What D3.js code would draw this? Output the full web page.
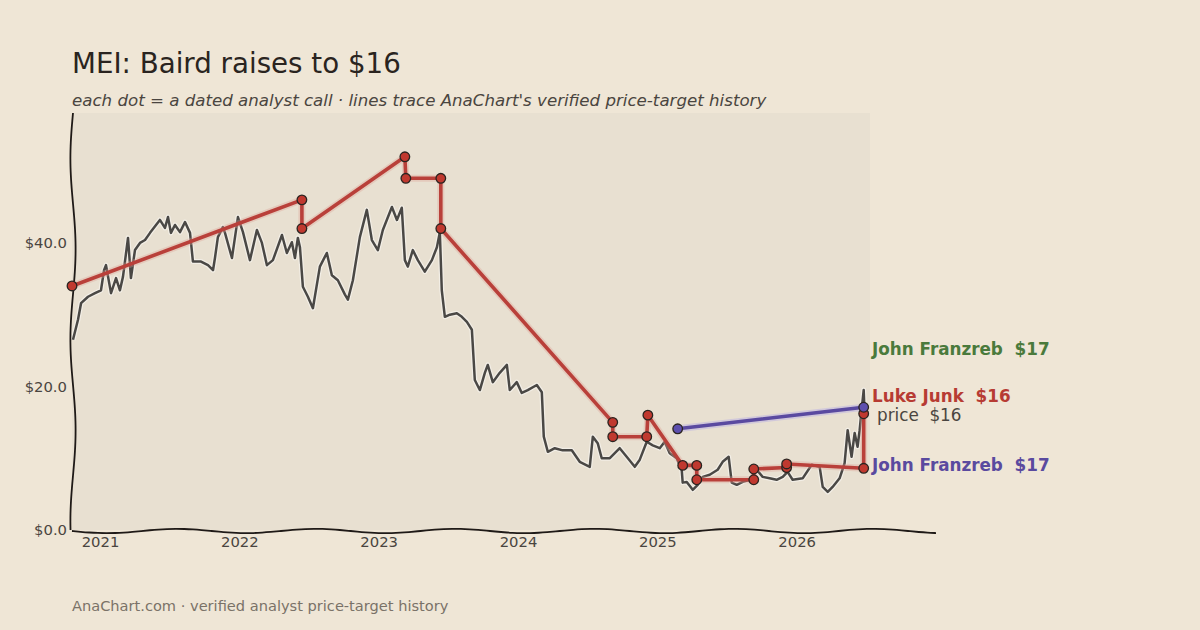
<!DOCTYPE html>
<html>
<head>
<meta charset="utf-8">
<script src="https://cdn.jsdelivr.net/npm/d3@7"></script>
<style>
  body { margin: 0; background: #efe6d6; }
  svg { display: block; font-family: "DejaVu Sans", sans-serif; }
  text { white-space: pre; }
</style>
</head>
<body>
<div id="chart"></div>
<script>
// price history, [decimal year, $]
var priceHistory = [
  [2020.806, 26.5], [2020.842, 29.3], [2020.864, 31.6], [2020.914, 32.5], [2020.964, 33.0],
  [2021.007, 33.4], [2021.029, 36.2], [2021.043, 36.9], [2021.079, 33.0], [2021.115, 35.1],
  [2021.143, 33.4], [2021.165, 35.3], [2021.201, 40.7], [2021.222, 35.1], [2021.251, 39.0],
  [2021.287, 40.0], [2021.323, 40.4], [2021.359, 41.4], [2021.402, 42.5], [2021.430, 43.2],
  [2021.466, 42.1], [2021.488, 43.6], [2021.509, 41.4], [2021.538, 42.5], [2021.574, 41.5],
  [2021.610, 42.9], [2021.646, 41.4], [2021.667, 37.4], [2021.725, 37.4], [2021.775, 36.9],
  [2021.811, 36.2], [2021.825, 37.9], [2021.846, 40.8], [2021.882, 42.2], [2021.897, 41.4],
  [2021.947, 37.9], [2021.990, 43.6], [2022.026, 41.5], [2022.076, 37.6], [2022.126, 41.8],
  [2022.162, 40.0], [2022.198, 36.9], [2022.241, 37.6], [2022.306, 41.1], [2022.341, 38.6],
  [2022.377, 40.1], [2022.399, 37.9], [2022.420, 40.7], [2022.435, 39.4], [2022.456, 33.9],
  [2022.492, 32.5], [2022.528, 30.9], [2022.578, 36.7], [2022.628, 38.6], [2022.664, 35.5],
  [2022.707, 34.8], [2022.758, 32.8], [2022.779, 32.1], [2022.815, 34.8], [2022.865, 40.8],
  [2022.915, 44.6], [2022.951, 40.4], [2022.994, 39.0], [2023.030, 41.8], [2023.095, 45.0],
  [2023.131, 43.2], [2023.166, 44.9], [2023.188, 37.6], [2023.209, 36.7], [2023.245, 39.0],
  [2023.281, 37.6], [2023.331, 36.0], [2023.382, 37.6], [2023.418, 39.4], [2023.439, 41.5],
  [2023.453, 33.4], [2023.475, 29.7], [2023.511, 30.0], [2023.561, 30.2], [2023.597, 29.7],
  [2023.633, 29.0], [2023.669, 27.9], [2023.690, 20.9], [2023.726, 19.5], [2023.762, 21.9],
  [2023.783, 23.0], [2023.819, 20.6], [2023.869, 21.9], [2023.920, 23.0], [2023.941, 19.5],
  [2023.991, 20.6], [2024.027, 19.1], [2024.070, 19.5], [2024.135, 20.2], [2024.171, 19.2],
  [2024.185, 13.0], [2024.214, 10.9], [2024.264, 11.4], [2024.321, 11.1], [2024.386, 11.1],
  [2024.443, 9.5], [2024.515, 8.8], [2024.537, 13.0], [2024.572, 12.1], [2024.601, 10.0],
  [2024.659, 10.0], [2024.730, 11.4], [2024.780, 10.2], [2024.838, 8.8], [2024.874, 9.8],
  [2024.924, 12.3], [2024.967, 11.8], [2025.017, 11.4], [2025.053, 12.3], [2025.089, 10.7],
  [2025.139, 10.0], [2025.175, 8.4], [2025.182, 6.6], [2025.211, 6.7], [2025.254, 5.6],
  [2025.290, 6.3], [2025.326, 7.4], [2025.376, 7.7], [2025.433, 8.4], [2025.469, 9.5],
  [2025.512, 10.2], [2025.534, 6.6], [2025.570, 6.3], [2025.613, 6.7], [2025.663, 7.0],
  [2025.713, 8.4], [2025.756, 7.4], [2025.806, 7.2], [2025.856, 7.0], [2025.900, 7.4],
  [2025.935, 8.1], [2025.971, 7.0], [2026.043, 7.2], [2026.108, 9.1], [2026.165, 8.8],
  [2026.187, 6.0], [2026.223, 5.3], [2026.258, 6.0], [2026.308, 7.2], [2026.344, 9.3],
  [2026.366, 13.9], [2026.394, 10.2], [2026.416, 13.5], [2026.437, 11.6], [2026.452, 13.9],
  [2026.466, 16.7], [2026.481, 19.5], [2026.488, 16.0]
];

// analyst calls, [decimal year, target $]
var lukeJunkCalls = [
  [2020.799, 34], [2022.449, 46], [2022.449, 42], [2023.188, 52], [2023.195, 49],
  [2023.446, 49], [2023.446, 42], [2024.680, 15], [2024.680, 13], [2024.924, 13],
  [2024.932, 16], [2025.182, 9], [2025.283, 9], [2025.283, 7], [2025.692, 7],
  [2025.692, 8.5], [2025.928, 8.7], [2025.928, 9.2], [2026.481, 8.6], [2026.481, 16.2]
];
var franzrebCalls = [[2025.146, 14.1], [2026.481, 17.1]];

var yTicks = [0, 20, 40];
var yearTicks = [2021, 2022, 2023, 2024, 2025, 2026];

// end labels: text, anchor value, colour, weight
var endLabels = [
  { text: "John Franzreb  $17", value: 25.2, color: "#4a7a3c", weight: "bold", dx: 0 },
  { text: "Luke Junk  $16", value: 18.7, color: "#b73b33", weight: "bold", dx: 0 },
  { text: "price  $16", value: 16.0, color: "#4a4540", weight: "normal", dx: 5 },
  { text: "John Franzreb  $17", value: 9.1, color: "#5a4a9f", weight: "bold", dx: 0 }
];

var W = 1200, H = 630;
var plot = { left: 72, top: 113, bottom: 530, shadeRight: 870, axisRight: 936 };

var svg = d3.select('#chart').append('svg')
  .attr('width', W)
  .attr('height', H);

svg.append('rect')
  .attr('width', W).attr('height', H)
  .attr('fill', '#efe6d6');

var x = d3.scaleLinear()
  .domain([2020.799, 2027.0])
  .range([plot.left, plot.axisRight]);

var y = d3.scaleLinear()
  .domain([0, 58.1])
  .range([plot.bottom, plot.top]);

// plot shade
svg.append('rect')
  .attr('x', plot.left)
  .attr('y', plot.top)
  .attr('width', plot.shadeRight - plot.left)
  .attr('height', plot.bottom - plot.top)
  .attr('fill', '#e8e0d1');

// titles
svg.append('text')
  .attr('x', 72).attr('y', 73)
  .attr('font-size', 27.7)
  .attr('fill', '#2a2420')
  .text('MEI: Baird raises to $16');

svg.append('text')
  .attr('x', 72).attr('y', 106)
  .attr('font-size', 16.65)
  .attr('font-style', 'italic')
  .attr('fill', '#4a4540')
  .text("each dot = a dated analyst call \u00b7 lines trace AnaChart's verified price-target history");

svg.append('text')
  .attr('x', 72).attr('y', 611)
  .attr('font-size', 14.6)
  .attr('fill', '#7a7268')
  .text('AnaChart.com \u00b7 verified analyst price-target history');

// axes (no tick marks, just labels)
var yAxis = svg.append('g')
  .attr('transform', 'translate(' + (plot.left - 5) + ',0)')
  .call(d3.axisLeft(y).tickValues(yTicks).tickSize(0).tickPadding(0)
    .tickFormat(function(d) { return '$' + d.toFixed(1); }));
yAxis.select('.domain').remove();
yAxis.selectAll('text')
  .attr('font-family', '"DejaVu Sans", sans-serif')
  .attr('font-size', 14.8)
  .attr('fill', '#4a4540');

var xAxis = svg.append('g')
  .attr('transform', 'translate(0,' + (plot.bottom + 3) + ')')
  .call(d3.axisBottom(x).tickValues(yearTicks).tickSize(0).tickPadding(3)
    .tickFormat(d3.format('d')));
xAxis.select('.domain').remove();
xAxis.selectAll('text')
  .attr('font-family', '"DejaVu Sans", sans-serif')
  .attr('font-size', 14.8)
  .attr('fill', '#4a4540');

// price line
var line = d3.line()
  .x(function(d) { return x(d[0]); })
  .y(function(d) { return y(d[1]); });

svg.append('path')
  .datum(priceHistory)
  .attr('fill', 'none')
  .attr('stroke', 'rgba(255,255,255,0.45)')
  .attr('stroke-width', 5)
  .attr('stroke-linejoin', 'round')
  .attr('d', line);

svg.append('path')
  .datum(priceHistory)
  .attr('fill', 'none')
  .attr('stroke', '#4a4845')
  .attr('stroke-width', 2.5)
  .attr('stroke-linejoin', 'round')
  .attr('d', line);

// sketchy spines
var wob = function(t, n) { return Math.sin(t * Math.PI * n); };
var bottomSpine = d3.range(0, 1.0001, 0.01).map(function(t) {
  return [plot.left + t * (plot.axisRight - plot.left), plot.bottom + 1 + 2.2 * wob(t, 12.4)];
});
var leftSpine = d3.range(0, 1.0001, 0.01).map(function(t) {
  return [plot.left + 1 - 2.6 * wob(t * 1.0, 4.6), plot.top + t * (plot.bottom - plot.top)];
});
var raw = d3.line().curve(d3.curveBasis);
[bottomSpine, leftSpine].forEach(function(pts) {
  svg.append('path')
    .attr('d', raw(pts))
    .attr('fill', 'none')
    .attr('stroke', '#1f1a17')
    .attr('stroke-width', 1.8);
});

// target lines
function targetLine(data, color, halo) {
  svg.append('path')
    .datum(data)
    .attr('fill', 'none')
    .attr('stroke', halo)
    .attr('stroke-width', 7)
    .attr('stroke-linejoin', 'round')
    .attr('d', line);
  svg.append('path')
    .datum(data)
    .attr('fill', 'none')
    .attr('stroke', color)
    .attr('stroke-width', 3.6)
    .attr('stroke-linejoin', 'round')
    .attr('stroke-linecap', 'round')
    .attr('d', line);
}
targetLine(lukeJunkCalls, '#b9403a', 'rgba(220,160,150,0.35)');
targetLine(franzrebCalls, '#5a4aa0', 'rgba(190,180,225,0.55)');

function dots(data, fill) {
  svg.append('g').selectAll('circle')
    .data(data)
    .enter().append('circle')
    .attr('cx', function(d) { return x(d[0]); })
    .attr('cy', function(d) { return y(d[1]); })
    .attr('r', 4.8)
    .attr('fill', fill)
    .attr('stroke', '#2a2420')
    .attr('stroke-width', 1.3);
}
dots(lukeJunkCalls, '#c0392f');
dots(franzrebCalls, '#5d4fae');

// end labels
svg.append('g').selectAll('text')
  .data(endLabels)
  .enter().append('text')
  .attr('x', function(d) { return plot.shadeRight + 2 + d.dx; })
  .attr('y', function(d) { return y(d.value); })
  .attr('dy', '0.35em')
  .attr('font-size', 16.8)
  .attr('font-weight', function(d) { return d.weight; })
  .attr('fill', function(d) { return d.color; })
  .text(function(d) { return d.text; });
</script>
</body>
</html>
